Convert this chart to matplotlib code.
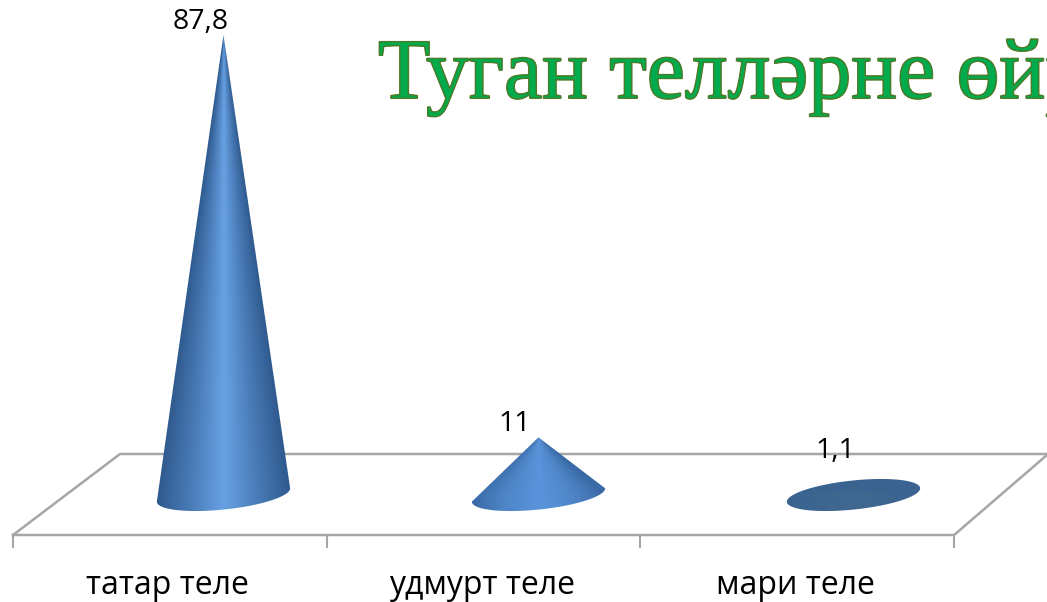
import numpy as np
import matplotlib
matplotlib.use('Agg')
import matplotlib.pyplot as plt
import matplotlib.patheffects as pe
from matplotlib.colors import LinearSegmentedColormap
from matplotlib.patches import Polygon

categories = ['татар теле', 'удмурт теле', 'мари теле']
values = [87.8, 11, 1.1]
value_labels = ['87,8', '11', '1,1']
title = 'Туган телләрне өйрәнү'

# shading of each cone, left edge / middle / right edge
shades = [['#2f5a8e', '#4a7cb8', '#68a2e4', '#4a7cb8', '#2f5a8e'],
          ['#3a6aa6', '#4f86c8', '#5a94dc', '#4f86c8', '#3a6aa6'],
          ['#3b6391', '#40688f', '#3b6391']]

W, H = 1047, 602
# pixel size of one category and one value unit
x0_px, cat_px = 13, 313.7
y0_px, val_px = 495, 5.24


def dx(px):
    return px / cat_px


def dy(px):
    return px / val_px


def to_x(px):
    return (px - x0_px) / cat_px


def to_y(px):
    return (y0_px - px) / val_px


fig = plt.figure(figsize=(W / 100, H / 100), dpi=100)
ax = fig.add_axes([0, 0, 1, 1])
ax.axis('off')
xlim = (to_x(0), to_x(W))
ylim = (to_y(H), to_y(0))

# floor of the 3d chart
grey = '#a6a6a6'
floor_y, back_y = to_y(535), to_y(454)
ax.plot([to_x(13), to_x(120), to_x(1047)], [floor_y, back_y, back_y], color=grey, lw=1.8, zorder=1)
ax.plot([0, 3, to_x(1047)], [floor_y, floor_y, to_y(455)], color=grey, lw=1.8, zorder=1)
for i in range(len(categories) + 1):
    ax.plot([i, i], [floor_y, to_y(547)], color=grey, lw=1.5, zorder=1)

# cones, the base is a tilted ellipse
a, b, tilt = 67, 14.5, np.radians(6)


def base(t):
    ex = a * np.cos(t) * np.cos(tilt) - b * np.sin(t) * np.sin(tilt)
    ey = a * np.cos(t) * np.sin(tilt) + b * np.sin(t) * np.cos(tilt)
    return ex, ey


t_right = np.arctan2(-b * np.sin(tilt), a * np.cos(tilt))
cone_x = [to_x(223.5 + 315 * i) for i in range(len(values))]
for i, v in enumerate(values):
    cx = cone_x[i]
    if v > dy(b):
        t = np.linspace(t_right, t_right - np.pi, 120)
        ex, ey = base(t)
        pts = [(cx, v)] + [(cx + dx(p), dy(q)) for p, q in zip(ex, ey)]
    else:
        # too flat to see the side, only the base shows
        ex, ey = base(np.linspace(0, 2 * np.pi, 200))
        pts = [(cx + dx(p), dy(q)) for p, q in zip(ex, ey)]
    poly = Polygon(pts, closed=True, transform=ax.transData, fc='none', ec='none')
    ax.add_patch(poly)
    cmap = LinearSegmentedColormap.from_list('cone', shades[i])
    top, bottom = max(v, dy(20)), dy(-20)
    # shading runs along the slope, towards the apex
    xs = np.linspace(-a - 2, a + 2, 256)
    ys = np.linspace(top, bottom, 400)
    f = np.clip((v - ys) / v, 0.02, 1)
    grad = np.clip(0.5 + 0.5 * xs[None, :] / (a * f[:, None]), 0, 1)
    ext = [cx - dx(a + 2), cx + dx(a + 2), bottom, top]
    im = ax.imshow(grad, cmap=cmap, vmin=0, vmax=1, extent=ext, aspect='auto', zorder=2,
                   interpolation='bilinear')
    im.set_clip_path(poly)

ax.set_xlim(xlim)
ax.set_ylim(ylim)

# labels
plt.rcParams['font.family'] = ['Open Sans', 'DejaVu Sans']
label_x = [201, 515, 835]
label_y = [v + dy(13) for v in values]
label_y[2] = to_y(451)
for i, lab in enumerate(value_labels):
    ax.text(to_x(label_x[i]), label_y[i], lab, ha='center', va='center',
            fontsize=20.5, color='black', zorder=3)
for i, c in enumerate(categories):
    ax.text(i + 0.5 - dx(2), to_y(585), c, ha='center', va='center', fontsize=23, color='black', zorder=3)

ax.text(to_x(378), to_y(98), title, family=['Liberation Serif', 'DejaVu Serif'], fontsize=61.7,
        color='#00ab4e', ha='left', va='baseline', zorder=4,
        path_effects=[pe.Stroke(linewidth=1.4, foreground='#4f7a28'), pe.Normal(),
                      pe.Stroke(linewidth=0.7, foreground='#4f7a28')])

fig.savefig('out.png', dpi=100)
